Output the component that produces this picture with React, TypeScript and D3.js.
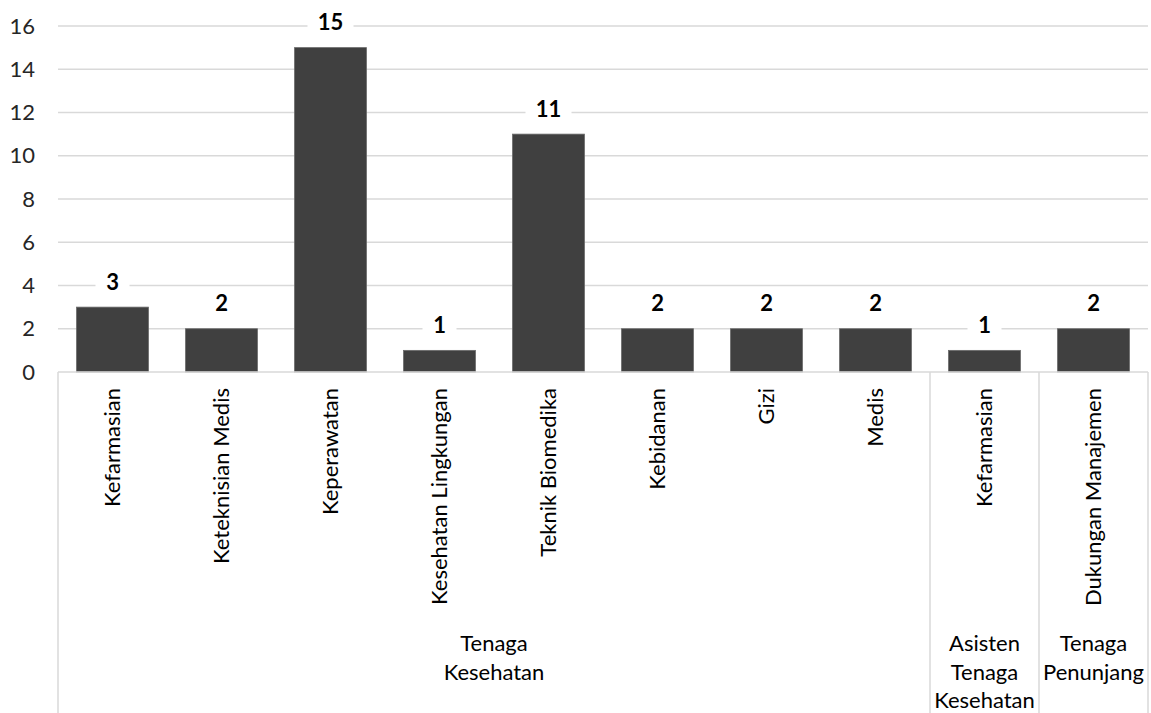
import React, { useEffect, useRef } from 'react';
import * as d3 from 'd3';

const categories = [
  'Kefarmasian',
  'Keteknisian Medis',
  'Keperawatan',
  'Kesehatan Lingkungan',
  'Teknik Biomedika',
  'Kebidanan',
  'Gizi',
  'Medis',
  'Kefarmasian',
  'Dukungan Manajemen',
];
const values = [3, 2, 15, 1, 11, 2, 2, 2, 1, 2];
// index into groupNames for each category
const categoryGroup = [0, 0, 0, 0, 0, 0, 0, 0, 1, 2];
const groupNames = [
  ['Tenaga', 'Kesehatan'],
  ['Asisten', 'Tenaga', 'Kesehatan'],
  ['Tenaga', 'Penunjang'],
];
const yTicks = [0, 2, 4, 6, 8, 10, 12, 14, 16];

const FONT = "Lato, 'Noto Sans', sans-serif";
const GRID = '#d9d9d9';

const App: React.FC = () => {
  const svgRef = useRef<SVGSVGElement>(null);

  useEffect(() => {
    if (!svgRef.current) return;
    document.body.style.margin = '0';

    const width = 1151;
    const height = 713;
    const margin = { top: 26, right: 3, left: 58 };
    const axisY = 372;
    const fontSize = 22;

    const svg = d3.select(svgRef.current);
    svg.selectAll('*').remove();
    svg.attr('width', width).attr('height', height);

    const idx = categories.map((_, i) => i);
    const x = d3
      .scaleBand<number>()
      .domain(idx)
      .range([margin.left, width - margin.right])
      .paddingInner(0.34)
      .paddingOuter(0.17);
    const step = x.step();

    const y = d3.scaleLinear().domain([0, 16]).range([axisY, margin.top]);

    // Grid lines
    svg
      .append('g')
      .selectAll('line')
      .data(yTicks.filter((t) => t > 0))
      .join('line')
      .attr('x1', margin.left)
      .attr('x2', width - margin.right)
      .attr('y1', (d) => y(d))
      .attr('y2', (d) => y(d))
      .attr('stroke', GRID)
      .attr('stroke-width', 1.3);

    // Y tick labels
    svg
      .append('g')
      .selectAll('text')
      .data(yTicks)
      .join('text')
      .attr('x', 35)
      .attr('y', (d) => y(d))
      .attr('dy', '0.35em')
      .attr('text-anchor', 'end')
      .attr('fill', '#262626')
      .attr('font-family', FONT)
      .attr('font-size', fontSize)
      .text((d) => d);

    // Bars
    svg
      .append('g')
      .selectAll('rect')
      .data(idx)
      .join('rect')
      .attr('x', (i) => x(i) ?? 0)
      .attr('y', (i) => y(values[i]))
      .attr('width', x.bandwidth())
      .attr('height', (i) => axisY - y(values[i]))
      .attr('fill', '#404040')
      .attr('stroke', '#6a6a6a')
      .attr('stroke-width', 0.8);

    // Axis line
    svg
      .append('line')
      .attr('x1', margin.left)
      .attr('x2', width - margin.right)
      .attr('y1', axisY)
      .attr('y2', axisY)
      .attr('stroke', GRID)
      .attr('stroke-width', 1.5);

    // Data labels with white boxes
    const labels = svg
      .append('g')
      .selectAll('g')
      .data(idx)
      .join('g')
      .attr('transform', (i) => `translate(${(x(i) ?? 0) + x.bandwidth() / 2},${y(values[i]) - 25})`);
    labels
      .append('rect')
      .attr('x', (i) => -(String(values[i]).length * 12 + 22) / 2)
      .attr('y', -15)
      .attr('width', (i) => String(values[i]).length * 12 + 22)
      .attr('height', 30)
      .attr('fill', '#fff');
    labels
      .append('text')
      .attr('text-anchor', 'middle')
      .attr('dy', '0.35em')
      .attr('font-family', FONT)
      .attr('font-weight', 'bold')
      .attr('font-size', fontSize)
      .attr('fill', '#000')
      .text((i) => values[i]);

    // Category labels (rotated)
    svg
      .append('g')
      .selectAll('text')
      .data(idx)
      .join('text')
      .attr('transform', (i) => `translate(${(x(i) ?? 0) + x.bandwidth() / 2},388) rotate(-90)`)
      .attr('text-anchor', 'end')
      .attr('dy', '0.35em')
      .attr('fill', '#000')
      .attr('font-family', FONT)
      .attr('font-size', fontSize)
      .text((i) => categories[i]);

    // Group separators and labels
    const groupBounds = groupNames.map((_, g) => {
      const members = idx.filter((i) => categoryGroup[i] === g);
      const x0 = (x(members[0]) ?? 0) - (step - x.bandwidth()) / 2;
      const x1 = (x(members[members.length - 1]) ?? 0) + x.bandwidth() + (step - x.bandwidth()) / 2;
      return { x0, x1 };
    });
    const seps = [groupBounds[0].x0, ...groupBounds.map((b) => b.x1)];
    svg
      .append('g')
      .selectAll('line')
      .data(seps)
      .join('line')
      .attr('x1', (d) => d)
      .attr('x2', (d) => d)
      .attr('y1', axisY)
      .attr('y2', height)
      .attr('stroke', GRID)
      .attr('stroke-width', 1.5);

    const groupText = svg
      .append('g')
      .selectAll('text')
      .data(groupNames)
      .join('text')
      .attr('text-anchor', 'middle')
      .attr('fill', '#000')
      .attr('font-family', FONT)
      .attr('font-size', fontSize);
    groupText
      .selectAll('tspan')
      .data((d, g) => d.map((line, k) => ({ line, k, g })))
      .join('tspan')
      .attr('x', (d) => (groupBounds[d.g].x0 + groupBounds[d.g].x1) / 2)
      .attr('y', (d) => 651 + d.k * 28.5)
      .text((d) => d.line);
  }, []);

  return (
    <div>
      <svg ref={svgRef} style={{ display: 'block' }} />
    </div>
  );
};

export default App;
